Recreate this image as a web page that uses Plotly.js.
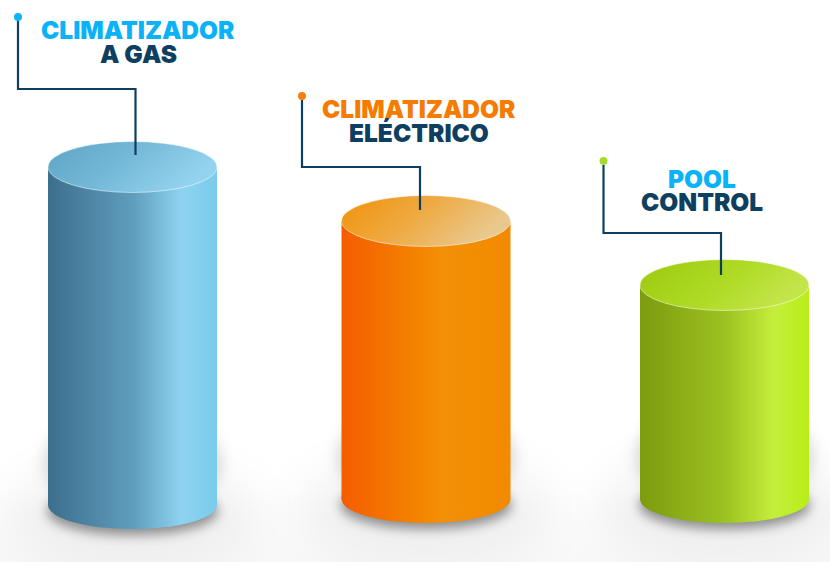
<!DOCTYPE html>
<html>
<head>
<meta charset="utf-8">
<script src="https://cdn.plot.ly/plotly-3.0.1.min.js"></script>
<style>
html,body{margin:0;padding:0;background:#fff}
#chart{width:830px;height:562px;background:linear-gradient(to bottom,#fff 0,#fff 490px,#f8f8f8 562px)}
</style>
</head>
<body>
<div id="chart"></div>
<script>
// Data (vertical unit: one screen pixel above the common floor)
const categories = ['Climatizador a gas', 'Climatizador eléctrico', 'Pool Control'];
const barCentres = [132.5, 426, 724.5];
const barHeights = [338, 278, 214];
const barBases = [-6, 0, 0];
const titleTop = ['CLIMATIZADOR', 'CLIMATIZADOR', 'POOL'];
const titleBottom = ['A GAS', 'ELÉCTRICO', 'CONTROL'];
const titleX = [138, 419, 702];
const titleTopY = [469, 390, 320];
const titleBottomY = [445, 366, 297];
const titleColours = ['#0ab2f7', '#f57c00', '#0ab2f7'];
const dotX = [18, 302, 603.5];
const dotY = [482, 403, 338];
const leaderX = [[18, 18, 135.5, 135.5], [302, 302, 420, 420], [603.5, 603.5, 721, 721]];
const leaderY = [[478, 410, 410, 344], [399, 332, 332, 289], [334, 266, 266, 224]];
const dotColours = ['#0fb2f5', '#f57f10', '#a9d82e'];
const navy = '#0e3f60';
const sideStops = [
  [[0, '#3c6e8d'], [0.5, '#5f9dbd'], [0.79, '#8ed3f0'], [1, '#7acbec']],
  [[0, '#f55c00'], [0.45, '#f38400'], [0.6, '#f39005'], [1, '#f28a00']],
  [[0, '#7c9c0e'], [0.5, '#9cc120'], [0.79, '#c5ee3c'], [1, '#b8ee17']]
];
const capStops = [
  [[0, '#5ea4c4'], [0.5, '#74b8d7'], [1, '#94d3ef']],
  [[0, '#ef9208'], [0.5, '#efa940'], [1, '#e9c88e']],
  [[0, '#9cc90e'], [0.6, '#afdb26'], [1, '#c4e54a']]
];

const barWidth = 169, capRy = 25.5, baseRy = 24;

const bars = {
  type: 'bar', x: barCentres, y: barHeights, base: barBases, width: barWidth,
  text: categories, textposition: 'none', hoverinfo: 'skip',
  marker: {color: sideStops.map(s => s[0][1]), line: {width: 0}}
};
const dots = {
  type: 'scatter', mode: 'markers', hoverinfo: 'skip',
  x: dotX, y: dotY,
  marker: {size: 8, color: dotColours, line: {width: 0}}
};

const shapes = [], blurTargets = [], sideTargets = [], capTargets = [];
function add(list, s, tag) { if (list) list.push([shapes.length, tag]); shapes.push(s); }
barCentres.forEach((c, i) => {
  const b = barBases[i], h = barWidth / 2;
  // soft floor glow, tall side shadow, contact shadow
  add(blurTargets, {type: 'circle', layer: 'below', x0: c - h - 45, x1: c + h + 45, y0: b - 60, y1: b + 40,
    fillcolor: 'rgba(0,0,0,0.05)', line: {width: 0}}, 22);
  add(blurTargets, {type: 'circle', layer: 'below', x0: c - h - 3, x1: c + h + 3, y0: b - 10, y1: b + 95,
    fillcolor: 'rgba(0,0,0,0.17)', line: {width: 0}}, 8);
  add(blurTargets, {type: 'circle', layer: 'below', x0: c - h - 1, x1: c + h + 1, y0: b - baseRy - 6, y1: b + baseRy - 6,
    fillcolor: 'rgba(0,0,0,0.42)', line: {width: 0}}, 6);
  add(sideTargets, {type: 'circle', layer: 'below', x0: c - h, x1: c + h, y0: b - baseRy, y1: b + baseRy,
    fillcolor: sideStops[i][0][1], line: {width: 0}}, i);
});
barCentres.forEach((c, i) => {
  const top = barBases[i] + barHeights[i], h = barWidth / 2;
  add(capTargets, {type: 'circle', layer: 'above', x0: c - h, x1: c + h, y0: top - capRy, y1: top + capRy,
    fillcolor: capStops[i][0][1], line: {width: 1, color: 'rgba(255,255,255,0.5)'}}, i);
});
leaderX.forEach((xs, i) => {
  const d = xs.map((x, k) => (k ? 'L' : 'M') + x + ',' + leaderY[i][k]).join(' ');
  shapes.push({type: 'path', layer: 'above', path: d, xref: 'x', yref: 'y', line: {width: 2.2, color: navy}});
});

const annotations = [];
const titleFont = {family: 'Inter, Montserrat, sans-serif', size: 24.5, weight: 900};
categories.forEach((_, i) => {
  annotations.push({x: titleX[i], y: titleTopY[i], text: titleTop[i], showarrow: false, xanchor: 'center', yanchor: 'middle',
    font: Object.assign({color: titleColours[i]}, titleFont)});
  annotations.push({x: titleX[i], y: titleBottomY[i], text: titleBottom[i], showarrow: false, xanchor: 'center', yanchor: 'middle',
    font: Object.assign({color: navy}, titleFont)});
});

const layout = {
  width: 830, height: 562, margin: {l: 0, r: 0, t: 0, b: 0},
  paper_bgcolor: 'rgba(0,0,0,0)', plot_bgcolor: 'rgba(0,0,0,0)',
  showlegend: false, hovermode: false, dragmode: false,
  xaxis: {range: [0, 830], visible: false, fixedrange: true},
  yaxis: {range: [-63, 499], visible: false, fixedrange: true},
  shapes: shapes, annotations: annotations
};

function grad(defs, id, stops, x2, y2) {
  const NS = 'http://www.w3.org/2000/svg';
  const g = document.createElementNS(NS, 'linearGradient');
  g.setAttribute('id', id);
  g.setAttribute('x1', 0); g.setAttribute('y1', 0); g.setAttribute('x2', x2); g.setAttribute('y2', y2);
  stops.forEach(s => {
    const st = document.createElementNS(NS, 'stop');
    st.setAttribute('offset', s[0]); st.setAttribute('stop-color', s[1]);
    g.appendChild(st);
  });
  defs.appendChild(g);
}
function blur(defs, id, sd) {
  const NS = 'http://www.w3.org/2000/svg';
  const f = document.createElementNS(NS, 'filter');
  f.setAttribute('id', id);
  f.setAttribute('x', '-60%'); f.setAttribute('y', '-120%'); f.setAttribute('width', '220%'); f.setAttribute('height', '340%');
  const b = document.createElementNS(NS, 'feGaussianBlur');
  b.setAttribute('stdDeviation', sd);
  f.appendChild(b); defs.appendChild(f);
}

Plotly.newPlot('chart', [bars, dots], layout, {displayModeBar: false, staticPlot: true}).then(gd => {
  const defs = gd.querySelector('svg.main-svg defs');
  sideStops.forEach((s, i) => grad(defs, 'side' + i, s, 1, 0));
  capStops.forEach((s, i) => grad(defs, 'cap' + i, s, 1, 0.35));
  blur(defs, 'blur22', 22); blur(defs, 'blur8', 8); blur(defs, 'blur6', 6);
  const shape = i => gd.querySelector('.shapelayer path[data-index="' + i + '"]');
  gd.querySelectorAll('.bars .point path').forEach((p, i) => { p.style.fill = 'url(#side' + i + ')'; });
  sideTargets.forEach(([k, i]) => { shape(k).style.fill = 'url(#side' + i + ')'; });
  capTargets.forEach(([k, i]) => { shape(k).style.fill = 'url(#cap' + i + ')'; });
  blurTargets.forEach(([k, sd]) => { shape(k).style.filter = 'url(#blur' + sd + ')'; });
});
</script>
</body>
</html>
